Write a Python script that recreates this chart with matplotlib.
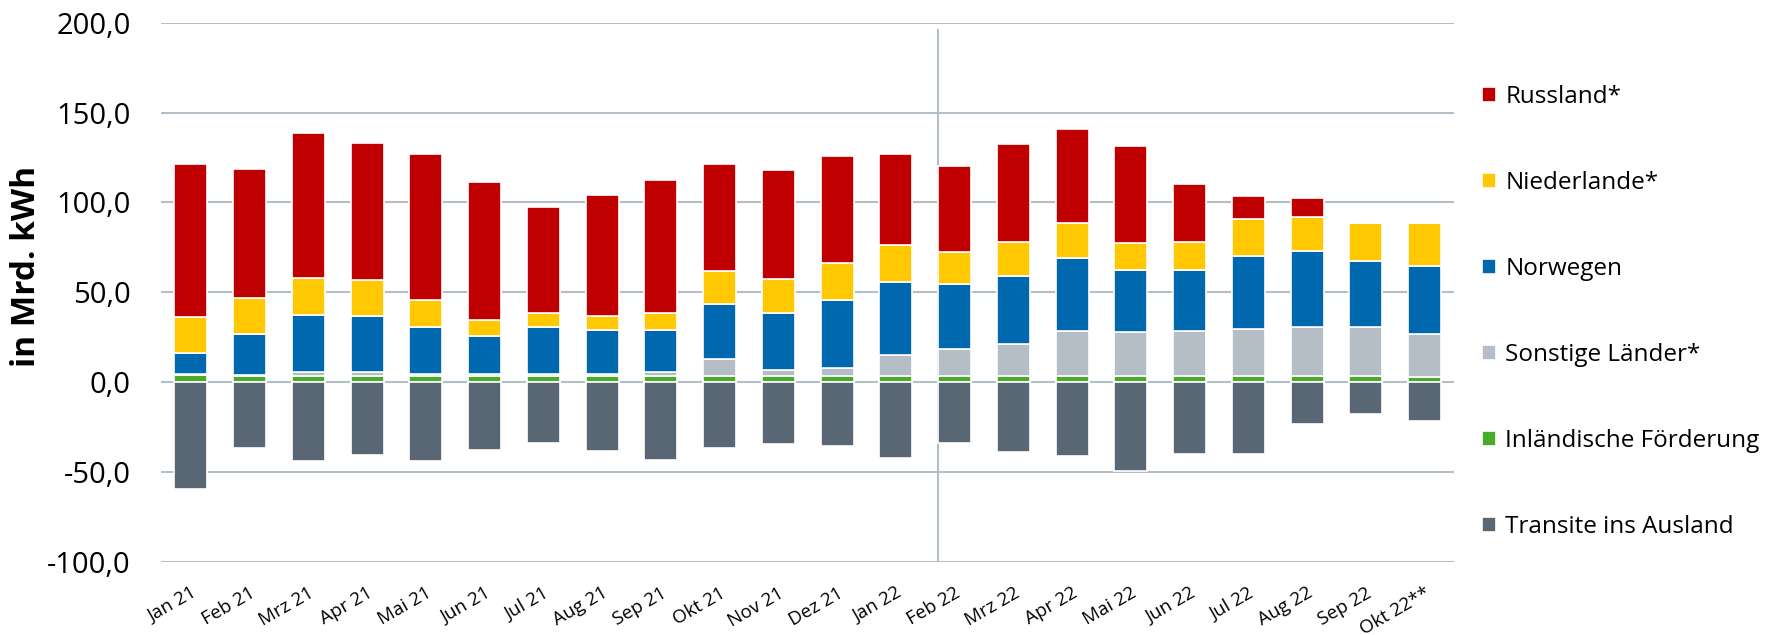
import numpy as np
import matplotlib
matplotlib.use("Agg")
import matplotlib.pyplot as plt

# Monate und Werte (in Mrd. kWh)
monate = ["Jan 21", "Feb 21", "Mrz 21", "Apr 21", "Mai 21", "Jun 21", "Jul 21",
          "Aug 21", "Sep 21", "Okt 21", "Nov 21", "Dez 21", "Jan 22", "Feb 22",
          "Mrz 22", "Apr 22", "Mai 22", "Jun 22", "Jul 22", "Aug 22", "Sep 22",
          "Okt 22**"]

inland = [4.0, 3.3, 3.6, 3.6, 3.6, 3.6, 3.6, 3.6, 3.6, 3.6, 3.6,
          3.6, 3.6, 3.6, 3.6, 3.6, 3.6, 3.6, 3.6, 3.6, 3.6, 2.9]
sonstige = [0.5, 0.5, 2.0, 2.0, 1.0, 0.7, 0.8, 1.1, 2.0, 9.0, 2.9,
            4.1, 11.3, 14.6, 17.3, 24.6, 24.1, 24.8, 25.7, 26.8, 26.8, 24.1]
norwegen = [11.9, 22.8, 31.6, 31.1, 25.8, 21.2, 26.2, 24.1, 23.2, 30.6, 32.0,
            38.2, 40.5, 36.5, 38.3, 40.9, 34.7, 34.2, 40.7, 42.3, 37.2, 37.6]
niederlande = [19.9, 20.0, 20.5, 20.1, 15.5, 9.0, 7.9, 7.7, 9.7, 18.5, 18.7,
               20.1, 21.0, 17.4, 18.7, 19.6, 14.9, 15.1, 20.8, 19.2, 20.7, 23.7]
russland = [85.3, 71.9, 81.0, 76.5, 81.1, 76.8, 58.8, 67.8, 74.1, 59.5, 60.8,
            59.7, 50.6, 48.2, 54.5, 52.3, 54.2, 32.7, 12.8, 10.4, 0.0, 0.0]
transit = [-59.5, -36.5, -43.9, -40.5, -43.7, -37.8, -33.8, -38.3, -43.2, -36.9, -34.7,
           -35.4, -42.3, -33.8, -38.7, -41.0, -49.3, -39.9, -39.9, -23.6, -17.8, -21.6]

plt.rcParams['font.family'] = ['Open Sans', 'DejaVu Sans']

grid_farbe = "#b4bec8"

fig = plt.figure(figsize=(17.72, 6.35), dpi=100)
ax = fig.add_axes([0.0911, 0.1154, 0.7294, 0.8489])

x = np.arange(len(monate))
breite = 0.56
kante = dict(edgecolor="white", linewidth=1.2)

# Positive Seite gestapelt
unten = np.zeros(len(monate))
serien = [
    (inland, "#4aaa2a", "Inländische Förderung"),
    (sonstige, "#b5bec6", "Sonstige Länder*"),
    (norwegen, "#0068af", "Norwegen"),
    (niederlande, "#ffc800", "Niederlande*"),
    (russland, "#c00000", "Russland*"),
]
balken = {}
for werte, farbe, name in serien:
    balken[name] = ax.bar(x, werte, breite, bottom=unten, color=farbe, label=name, zorder=3, **kante)
    unten += np.array(werte)

balken["Transite ins Ausland"] = ax.bar(x, transit, breite, color="#596774",
                                        label="Transite ins Ausland", zorder=3, **kante)

# Linie bei Kriegsbeginn (Feb 22)
ax.vlines(12.72, -100, 196.6, color=grid_farbe, linewidth=1.5, zorder=2)

ax.set_xlim(-0.5, len(monate) - 0.5)
ax.set_ylim(-100, 200)
ax.set_yticks(np.arange(-100, 201, 50))
ax.set_yticklabels([f"{v:.1f}".replace(".", ",") for v in np.arange(-100, 201, 50)], fontsize=21)
ax.set_xticks(x)
ax.set_xticklabels(monate, fontsize=13.5, rotation=30, ha="right", va="top", rotation_mode="anchor")
ax.tick_params(axis="y", length=0, pad=22)
ax.tick_params(axis="x", length=0, pad=16)

ax.yaxis.grid(True, color=grid_farbe, linewidth=1.5, zorder=0)
ax.set_axisbelow(True)
for s in ax.spines.values():
    s.set_visible(False)

fig.text(0.0147, 0.581, "in Mrd. kWh", rotation=90, ha="center", va="center",
         fontsize=24, fontweight="bold")

reihenfolge = ["Russland*", "Niederlande*", "Norwegen", "Sonstige Länder*",
               "Inländische Förderung", "Transite ins Ausland"]
fig.legend([balken[n] for n in reihenfolge], reihenfolge,
           loc="upper left", bbox_to_anchor=(1482 / 1772, 0.866),
           frameon=False, fontsize=17.5, handlelength=0.58, handleheight=0.58,
           handletextpad=0.38, labelspacing=2.55, borderpad=0, borderaxespad=0)

fig.savefig("out.png", dpi=100)
